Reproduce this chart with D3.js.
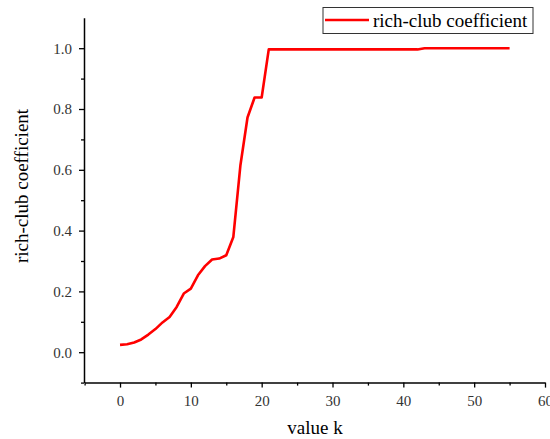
<!DOCTYPE html>
<html>
<head>
<meta charset="utf-8">
<script src="https://cdn.jsdelivr.net/npm/d3@7"></script>
<style>
  body { margin: 0; background: #fff; }
</style>
</head>
<body>
<div id="container"></div>
<script>
// rich-club coefficient per degree k
const kValues = d3.range(0, 56)
const richClub = [
  0.024, 0.026, 0.032, 0.042, 0.058, 0.076, 0.098, 0.116, 0.149, 0.193,
  0.209, 0.253, 0.283, 0.305, 0.308, 0.319, 0.379, 0.615, 0.772, 0.838,
  0.838, 0.996, 0.996, 0.996, 0.996, 0.996, 0.996, 0.996, 0.996, 0.996,
  0.996, 0.996, 0.996, 0.996, 0.996, 0.996, 0.996, 0.996, 0.996, 0.996,
  0.996, 0.996, 0.996, 1.0, 1.0, 1.0, 1.0, 1.0, 1.0, 1.0,
  1.0, 1.0, 1.0, 1.0, 1.0, 1.0
]
const xTicks = [0, 10, 20, 30, 40, 50, 60]
const yTicks = [0.0, 0.2, 0.4, 0.6, 0.8, 1.0]
const seriesName = 'rich-club coefficient'

const width = 550
const height = 439
const serif = "'Liberation Serif', 'Times New Roman', 'DejaVu Serif', serif"

const data = kValues.map((k, i) => ({ k, v: richClub[i] }))

const svg = d3.select('#container')
  .append('svg')
  .attr('width', width)
  .attr('height', height)
  .attr('font-family', serif)

const scaleX = d3.scaleLinear()
  .domain([-5, 60])
  .range([84.6, 545])

const scaleY = d3.scaleLinear()
  .domain([-0.1, 1.1])
  .range([382.6, 17.8])

// minor ticks first
svg.append('g')
  .attr('transform', `translate(0, ${scaleY(-0.1)})`)
  .call(d3.axisBottom(scaleX).tickValues(d3.range(-5, 60, 10)).tickSize(3).tickFormat(''))
  .call(g => g.select('.domain').remove())

svg.append('g')
  .attr('transform', `translate(${scaleX(-5) - 0.6}, 0)`)
  .call(d3.axisLeft(scaleY).tickValues([-0.1, 0.1, 0.3, 0.5, 0.7, 0.9]).tickSize(3).tickFormat(''))
  .call(g => g.select('.domain').remove())

svg.append('g')
  .attr('transform', `translate(0, ${scaleY(-0.1)})`)
  .call(d3.axisBottom(scaleX).tickValues(xTicks).tickSize(5).tickSizeOuter(0).tickPadding(8))

svg.append('g')
  .attr('transform', `translate(${scaleX(-5) - 0.6}, 0)`)
  .call(d3.axisLeft(scaleY).tickValues(yTicks).tickSize(5).tickSizeOuter(0).tickPadding(7)
    .tickFormat(d3.format('.1f')))

svg.selectAll('g').attr('font-family', serif)
svg.selectAll('.tick line').attr('stroke', '#000').attr('stroke-width', 1.3)
svg.selectAll('.domain').attr('stroke', '#000').attr('stroke-width', 1.5)
svg.selectAll('.tick text')
  .attr('fill', '#333')
  .style('font-size', '15px')
  .style('font-family', serif)

// axis titles
svg.append('text')
  .attr('x', 315)
  .attr('y', 434)
  .attr('text-anchor', 'middle')
  .style('font-size', '19px')
  .style('font-family', serif)
  .text('value k')

svg.append('text')
  .attr('transform', `translate(28, 186) rotate(-90)`)
  .attr('text-anchor', 'middle')
  .style('font-size', '19px')
  .style('font-family', serif)
  .text(seriesName)

// series line
const line = d3.line()
  .x(d => scaleX(d.k))
  .y(d => scaleY(d.v))

svg.append('path')
  .datum(data)
  .attr('fill', 'none')
  .attr('stroke', '#ff0000')
  .attr('stroke-width', 2.6)
  .attr('stroke-linejoin', 'round')
  .attr('d', line)

// legend
svg.append('rect')
  .attr('x', 323)
  .attr('y', 7.5)
  .attr('width', 210)
  .attr('height', 26)
  .attr('fill', '#fff')
  .attr('stroke', '#333')
  .attr('stroke-width', 1)
svg.append('line')
  .attr('x1', 325).attr('x2', 369)
  .attr('y1', 20).attr('y2', 20)
  .attr('stroke', '#ff0000')
  .attr('stroke-width', 2.6)
svg.append('text')
  .attr('x', 373)
  .attr('y', 27)
  .style('font-size', '19px')
  .style('font-family', serif)
  .text(seriesName)
</script>
</body>
</html>
